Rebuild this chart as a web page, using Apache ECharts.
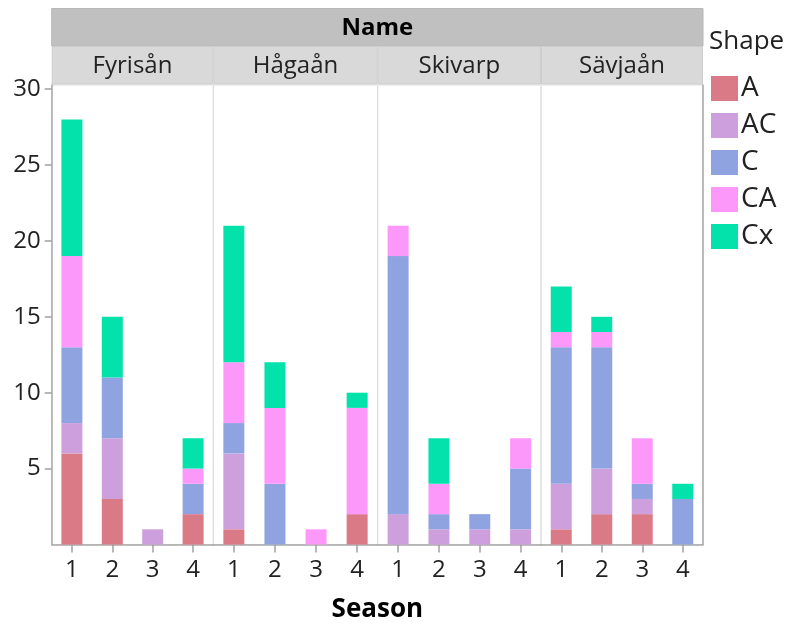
<!DOCTYPE html>
<html>
<head>
<meta charset="utf-8">
<script src="https://cdn.jsdelivr.net/npm/echarts@6/dist/echarts.min.js"></script>
<style>
  html, body { margin: 0; padding: 0; background: #fff; }
  #chart { width: 791px; height: 625px; }
</style>
</head>
<body>
<div id="chart"></div>
<script>
// facets, seasons and stacked shapes
const names = ['Fyrisån', 'Hågaån', 'Skivarp', 'Sävjaån']
const seasons = ['1', '2', '3', '4']
const shapes = ['A', 'AC', 'C', 'CA', 'Cx']
const yTicks = [5, 10, 15, 20, 25, 30]

// counts per name (row) and season (column)
const countA  = [[6, 3, 0, 2], [1, 0, 0, 2], [0, 0, 0, 0], [1, 2, 2, 0]]
const countAC = [[2, 4, 1, 0], [5, 0, 0, 0], [2, 1, 1, 1], [3, 3, 1, 0]]
const countC  = [[5, 4, 0, 2], [2, 4, 0, 0], [17, 1, 1, 4], [9, 8, 1, 3]]
const countCA = [[6, 0, 0, 1], [4, 5, 1, 7], [2, 2, 0, 2], [1, 1, 3, 0]]
const countCx = [[9, 4, 0, 2], [9, 3, 0, 1], [0, 3, 0, 0], [3, 1, 0, 1]]

const counts = [countA, countAC, countC, countCA, countCx]
const colors = ['#db7a87', '#cda0dd', '#8fa3e1', '#fd98fb', '#04e2ab']

const font = '"Open Sans", "Noto Sans", sans-serif'
const edges = [51.7, 213.3, 377.7, 541, 703]
const plotTop = 85
const plotBottom = 544.5
const yMax = 30.27

const chart = echarts.init(document.getElementById('chart'), null, { renderer: 'canvas' })

const grids = []
const xAxes = []
const yAxes = []
const series = []
const graphics = []

names.forEach((name, i) => {
  grids.push({
    left: edges[i],
    width: edges[i + 1] - edges[i],
    top: plotTop,
    height: plotBottom - plotTop,
    show: true,
    borderColor: '#dedede',
    borderWidth: 1
  })
  xAxes.push({
    type: 'category',
    gridIndex: i,
    data: seasons,
    axisLine: { show: true, lineStyle: { color: '#a8a8a8', width: 1.5 } },
    axisTick: { show: true, alignWithLabel: true, length: 8, lineStyle: { color: '#a0a0a0', width: 1.5 } },
    axisLabel: { color: '#222', fontSize: 24, fontFamily: font, margin: 14 },
    splitLine: { show: false }
  })
  yAxes.push({
    type: 'value',
    gridIndex: i,
    min: 0,
    max: yMax,
    show: i === 0 || i === 3,
    position: i === 3 ? 'right' : 'left',
    axisLine: { show: true, lineStyle: { color: '#a8a8a8', width: 1.5 } },
    axisTick: { show: i === 0, customValues: yTicks, length: 7, lineStyle: { color: '#a0a0a0', width: 1.5 } },
    axisLabel: { show: i === 0, customValues: yTicks, color: '#222', fontSize: 24, fontFamily: font, margin: 11 },
    splitLine: { show: false }
  })
  shapes.forEach((shape, k) => {
    series.push({
      name: shape,
      type: 'bar',
      xAxisIndex: i,
      yAxisIndex: i,
      stack: 'facet' + i,
      barWidth: 21,
      itemStyle: { color: colors[k] },
      data: counts[k][i].map(v => v || '-')
    })
  })

  // facet header tile
  graphics.push({
    type: 'rect',
    shape: { x: edges[i] + 0.5, y: 46.5, width: edges[i + 1] - edges[i] - 1, height: 37.5 },
    style: { fill: '#d9d9d9', stroke: '#cdcdcd', lineWidth: 1 }
  })
  graphics.push({
    type: 'text',
    x: (edges[i] + edges[i + 1]) / 2,
    y: 66,
    style: { text: name, fill: '#222', font: '24px ' + font, align: 'center', verticalAlign: 'middle' }
  })
})

// Name strip, axis title and legend title
graphics.unshift({
  type: 'rect',
  shape: { x: edges[0], y: 8.5, width: edges[4] - edges[0], height: 37.5 },
  style: { fill: '#c0c0c0', stroke: '#b8b8b8', lineWidth: 1 }
})
graphics.push({
  type: 'text', x: (edges[0] + edges[4]) / 2, y: 28,
  style: { text: 'Name', fill: '#000', font: 'bold 24px ' + font, align: 'center', verticalAlign: 'middle' }
})
graphics.push({
  type: 'text', x: (edges[0] + edges[4]) / 2, y: 610,
  style: { text: 'Season', fill: '#000', font: 'bold 26px ' + font, align: 'center', verticalAlign: 'middle' }
})
graphics.push({
  type: 'text', x: 709, y: 42,
  style: { text: 'Shape', fill: '#222', font: '26px ' + font, align: 'left', verticalAlign: 'middle' }
})

const option = {
  animation: false,
  backgroundColor: '#fff',
  grid: grids,
  xAxis: xAxes,
  yAxis: yAxes,
  series: series,
  legend: {
    data: shapes,
    orient: 'vertical',
    left: 711,
    top: 74.5,
    padding: 0,
    itemWidth: 27,
    itemHeight: 25,
    itemGap: 9,
    icon: 'rect',
    selectedMode: false,
    textStyle: { color: '#222', fontSize: 28, fontFamily: font, padding: [0, 0, 0, -2] }
  },
  graphic: graphics
}

chart.setOption(option)
window.addEventListener('resize', () => chart.resize())
</script>
</body>
</html>
